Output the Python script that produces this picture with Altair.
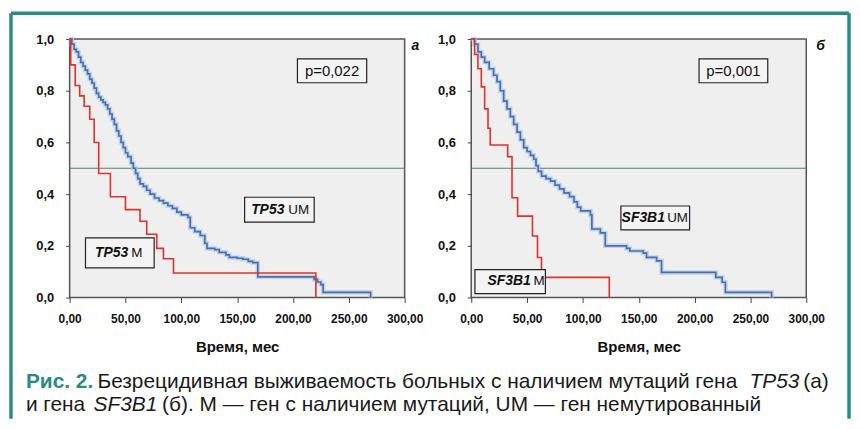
import altair as alt
import pandas as pd

# ---------------- data ----------------
tp53_m_t = [0, 1, 5, 9, 13, 18, 22, 26, 36.5, 50, 63, 69, 78, 84, 93, 220.5]
tp53_m_s = [1.0, 0.90, 0.82, 0.78, 0.74, 0.69, 0.60, 0.48, 0.39, 0.34, 0.295, 0.245, 0.19, 0.15, 0.095, 0.0]

tp53_um_t = [0, 2, 4, 6, 8, 10, 12, 14, 16, 18, 20, 22, 24, 26, 28, 30, 32, 34, 36, 38, 40, 42, 44, 46,
             48, 50, 52, 55, 57, 59, 61, 63, 66, 69, 72, 76, 80, 84, 88, 92, 96, 100, 106, 108, 112,
             117, 121, 123, 130, 134, 140, 143, 150, 155, 160, 164, 168.5, 219, 222, 225, 227, 269.5]
tp53_um_s = [1.0, 0.98, 0.96, 0.95, 0.93, 0.91, 0.895, 0.88, 0.865, 0.845, 0.83, 0.81, 0.79, 0.775,
             0.765, 0.755, 0.745, 0.73, 0.71, 0.69, 0.67, 0.645, 0.625, 0.60, 0.58, 0.56, 0.545, 0.52,
             0.50, 0.48, 0.46, 0.44, 0.43, 0.415, 0.40, 0.385, 0.375, 0.365, 0.355, 0.345, 0.33, 0.32,
             0.31, 0.27, 0.255, 0.24, 0.21, 0.19, 0.185, 0.175, 0.165, 0.155, 0.152, 0.148, 0.14,
             0.135, 0.08, 0.07, 0.06, 0.05, 0.02, 0.0]

sf3b1_m_t = [0, 3, 6, 9, 12, 15, 17, 32.6, 36.5, 41.5, 54.8, 59.3, 62.9, 123.6]
sf3b1_m_s = [1.0, 0.94, 0.885, 0.815, 0.73, 0.655, 0.59, 0.545, 0.386, 0.315, 0.238, 0.155, 0.078, 0.0]

sf3b1_um_t = [0, 3, 6, 9, 12, 16, 20, 23, 26, 29, 32, 35, 38, 41, 44, 47, 50, 53, 56, 58, 60, 63, 67,
              71, 75, 79, 83, 88, 92, 95, 98, 106.7, 108, 115.6, 120, 139, 142, 154, 157, 166, 170.4,
              219, 224.7, 227.6, 269]
sf3b1_um_s = [1.0, 0.98, 0.95, 0.93, 0.91, 0.885, 0.86, 0.835, 0.80, 0.76, 0.73, 0.70, 0.67, 0.64,
              0.61, 0.58, 0.565, 0.55, 0.535, 0.51, 0.488, 0.47, 0.46, 0.45, 0.435, 0.42, 0.405,
              0.39, 0.37, 0.35, 0.335, 0.32, 0.265, 0.25, 0.2, 0.19, 0.18, 0.172, 0.155, 0.142,
              0.097, 0.078, 0.059, 0.02, 0.0]

x_ticks = [0, 50, 100, 150, 200, 250, 300]
y_ticks = [0.0, 0.2, 0.4, 0.6, 0.8, 1.0]

FONT = "Liberation Sans"
RED = "#e3302b"
BLUE = "#4a70b0"
HALO = "#b8cdea"
TEAL = "#2b8a83"

W, H = 337, 260


def X(field):
    return alt.X(field, type="quantitative",
                 scale=alt.Scale(domain=[0, 300], nice=False, zero=False),
                 axis=alt.Axis(values=x_ticks, title="Время, мес",
                               labelExpr="replace(format(datum.value, '.2f'), '.', ',')",
                               grid=False, domain=False, tickSize=5, tickColor="#444",
                               labelFlush=False, labelOverlap=False,
                               labelPadding=11, labelFont=FONT, labelFontSize=12,
                               labelFontWeight="bold", labelColor="#111",
                               titleFont=FONT, titleFontSize=15, titleFontWeight="bold",
                               titleColor="#111", titlePadding=15))


def Y(field):
    return alt.Y(field, type="quantitative",
                 scale=alt.Scale(domain=[0, 1], nice=False, zero=False),
                 axis=alt.Axis(values=y_ticks, title=None,
                               labelExpr="replace(format(datum.value, '.1f'), '.', ',')",
                               grid=False, domain=False, tickSize=4, tickColor="#444",
                               labelFlush=False, labelOverlap=False,
                               labelPadding=12, labelFont=FONT, labelFontSize=13,
                               labelFontWeight="bold", labelColor="#111"))


def curve(t, s):
    return pd.DataFrame({"t": t, "s": s})


def panel(red, blue, pval, box_p, box_um, box_m, um_name, um_split, um_y,
          m_name, m_split, m_y, letter, letter_dx, extra=()):
    layers = []
    # median reference line
    layers.append(alt.Chart(pd.DataFrame({"s": [0.5]})).mark_rule(
        color="#4f8374", strokeWidth=1).encode(y=Y("s")))
    # blue curve: pale halo (censor marks) + line
    layers.append(alt.Chart(blue).mark_line(interpolate="step-after", color=HALO,
                                            strokeWidth=4.5, opacity=0.8)
                  .encode(x=X("t"), y=Y("s")))
    layers.append(alt.Chart(blue).mark_line(interpolate="step-after", color=BLUE,
                                            strokeWidth=1.7)
                  .encode(x=X("t"), y=Y("s")))
    layers.append(alt.Chart(red).mark_line(interpolate="step-after", color=RED,
                                           strokeWidth=1.6)
                  .encode(x=X("t"), y=Y("s")))
    # annotation boxes
    boxes = pd.DataFrame([box_p, box_um, box_m], columns=["x1", "x2", "y1", "y2"])
    layers.append(alt.Chart(boxes).mark_rect(fill="#f4f4f4", stroke="#222",
                                             strokeWidth=1.2)
                  .encode(x=X("x1"), x2="x2", y=Y("y1"), y2="y2"))
    pdf = pd.DataFrame({"x": [(box_p[0] + box_p[1]) / 2], "y": [(box_p[2] + box_p[3]) / 2],
                        "txt": [pval]})
    layers.append(alt.Chart(pdf).mark_text(font=FONT, fontSize=15, color="#111",
                                           baseline="middle", align="center")
                  .encode(x=X("x"), y=Y("y"), text="txt:N"))
    gene = pd.DataFrame({"x": [um_split[0], m_split[0]], "y": [um_y, m_y],
                         "txt": [um_name, m_name]})
    suffix = pd.DataFrame({"x": [um_split[1], m_split[1]], "y": [um_y, m_y],
                           "txt": ["UM", "M"]})
    layers.append(alt.Chart(gene).mark_text(font=FONT, fontSize=14, fontStyle="italic",
                                            fontWeight="bold", color="#111",
                                            baseline="middle", align="right")
                  .encode(x=X("x"), y=Y("y"), text="txt:N"))
    layers.append(alt.Chart(suffix).mark_text(font=FONT, fontSize=13.5, color="#111",
                                              baseline="middle", align="left")
                  .encode(x=X("x"), y=Y("y"), text="txt:N"))
    # panel letter
    layers.append(alt.Chart(pd.DataFrame({"txt": [letter]})).mark_text(
        font=FONT, fontSize=14, fontStyle="italic", fontWeight="bold", color="#111",
        align="left", baseline="middle").encode(
        x=alt.value(W + letter_dx), y=alt.value(7), text="txt:N"))
    layers.extend(extra)
    return alt.layer(*layers).properties(width=W, height=H)


one = pd.DataFrame({"a": [0]})
frame = [
    alt.Chart(one).mark_rule(color=TEAL, strokeWidth=3.5).encode(
        x=alt.value(-59), y=alt.value(-26), y2=alt.value(382)),
    alt.Chart(one).mark_rule(color=TEAL, strokeWidth=3.5).encode(
        x=alt.value(784), y=alt.value(-26), y2=alt.value(382)),
    alt.Chart(one).mark_rule(color=TEAL, strokeWidth=3.5).encode(
        x=alt.value(-59), x2=alt.value(784), y=alt.value(-26)),
]

L1, L2 = 345, 368
caption_parts = [
    # text, x, y, style
    ("Рис. 2.", -44, L1, "teal"),
    ("Безрецидивная выживаемость больных с наличием мутаций гена", 28, L1, "normal"),
    ("TP53", 684, L1, "italic"),
    ("(а)", 738, L1, "normal"),
    ("и гена", -44, L2, "normal"),
    ("SF3B1", 24, L2, "italic"),
    ("(б). М — ген с наличием мутаций, UM — ген немутированный", 93, L2, "normal"),
]
caption = []
for txt, cx, cy, style in caption_parts:
    kw = dict(font=FONT, fontSize=21, align="left", baseline="middle", color="#1a1a1a")
    if style == "teal":
        kw.update(color=TEAL, fontWeight="bold")
    elif style == "italic":
        kw.update(fontStyle="italic")
    caption.append(alt.Chart(pd.DataFrame({"txt": [txt]})).mark_text(**kw).encode(
        x=alt.value(cx), y=alt.value(cy), text="txt:N"))

left = panel(curve(tp53_m_t, tp53_m_s), curve(tp53_um_t, tp53_um_s), "p=0,022",
             [204, 266, 0.923, 0.831], [156.7, 219, 0.388, 0.292], [14.2, 75.7, 0.231, 0.115],
             "TP53", [192.3, 195.8], 0.34, "TP53", [52.5, 55.2], 0.173, "а", 7,
             extra=frame + caption)
right = panel(curve(sf3b1_m_t, sf3b1_m_s), curve(sf3b1_um_t, sf3b1_um_s), "p=0,001",
              [204, 265.5, 0.923, 0.831], [134, 195.5, 0.354, 0.262], [3.3, 66.4, 0.108, 0.015],
              "SF3B1", [173.4, 175.4], 0.308, "SF3B1", [53.3, 55.8], 0.062, "б", 10)

chart = alt.hconcat(left, right, spacing=67, bounds="flush").properties(
    padding={"left": 0, "top": 1, "right": 0, "bottom": 0},
    background="#ffffff",
).configure_view(fill="#efefef", stroke="#555555", strokeWidth=1.5)

chart.save("out.html", embed_options={"renderer": "svg", "actions": False})
